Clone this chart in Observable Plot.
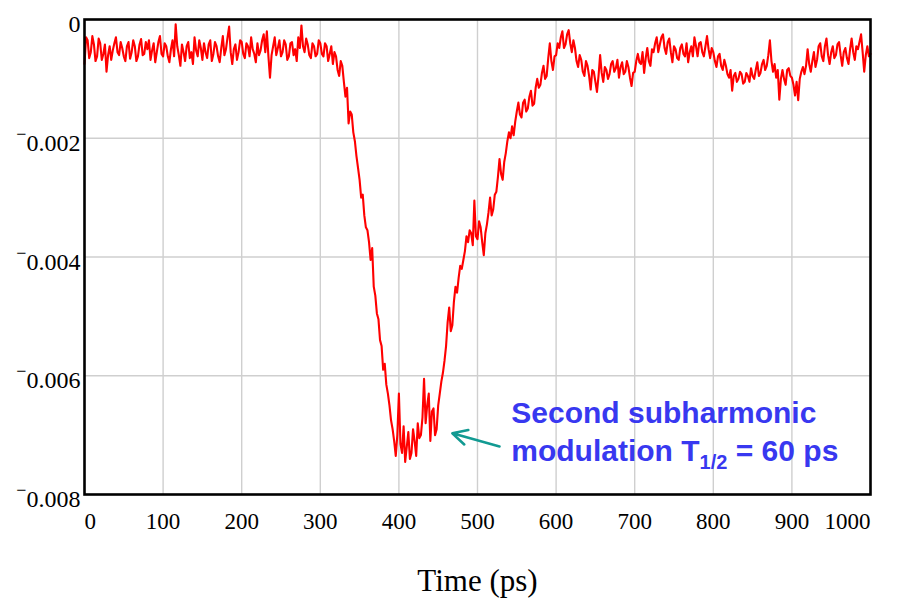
<!DOCTYPE html>
<html>
<head>
<meta charset="utf-8">
<script src="https://cdn.jsdelivr.net/npm/d3@7"></script>
<script src="https://cdn.jsdelivr.net/npm/@observablehq/plot@0.6"></script>
<style>
  html, body { margin: 0; padding: 0; background: #fff; }
</style>
</head>
<body>
<div id="chart"></div>
<script>
// Sampling step of the trace (ps)
const timeStepPs = 2;
// Signal values, in units of 1e-3, one every 2 ps from 0 to 1000 ps
const signalE3 = [
  // 0 .. 302
  -0.75,-0.30,-0.35,-0.65,-0.55,-0.28,-0.42,-0.70,-0.62,-0.32,-0.40,-0.68,-0.58,-0.42,-0.88,-0.60,-0.45,-0.68,-0.52,-0.40,
  -0.30,-0.55,-0.60,-0.38,-0.48,-0.62,-0.70,-0.45,-0.38,-0.66,-0.55,-0.35,-0.45,-0.70,-0.62,-0.42,-0.33,-0.60,-0.58,-0.38,
  -0.50,-0.35,-0.68,-0.52,-0.40,-0.72,-0.55,-0.38,-0.28,-0.58,-0.62,-0.40,-0.45,-0.62,-0.72,-0.50,-0.35,-0.62,-0.08,-0.45,
  -0.60,-0.78,-0.42,-0.55,-0.70,-0.45,-0.38,-0.65,-0.55,-0.75,-0.30,-0.52,-0.62,-0.35,-0.48,-0.68,-0.40,-0.55,-0.65,-0.42,
  -0.35,-0.70,-0.58,-0.38,-0.45,-0.62,-0.72,-0.48,-0.28,-0.60,-0.50,-0.30,-0.12,-0.55,-0.75,-0.50,-0.42,-0.68,-0.55,-0.35,
  -0.38,-0.58,-0.65,-0.40,-0.45,-0.62,-0.30,-0.50,-0.58,-0.72,-0.40,-0.60,-0.52,-0.35,-0.25,-0.55,-0.20,-0.62,-0.98,-0.60,
  -0.45,-0.30,-0.60,-0.48,-0.35,-0.62,-0.55,-0.35,-0.42,-0.68,-0.62,-0.40,-0.38,-0.60,-0.50,-0.70,-0.30,-0.48,-0.10,-0.45,
  -0.55,-0.32,-0.42,-0.60,-0.65,-0.40,-0.45,-0.62,-0.58,-0.35,-0.40,-0.58,
  // 304 .. 402
  -0.62,-0.40,-0.45,-0.70,-0.58,-0.45,-0.75,-0.55,-0.62,-0.85,-0.95,-0.70,-0.78,-1.05,-1.30,-1.15,-1.75,-1.55,-1.60,-1.90,
  -2.05,-2.30,-2.50,-2.70,-3.00,-2.95,-3.30,-3.50,-3.55,-3.75,-4.05,-3.85,-4.50,-4.65,-4.95,-5.05,-5.40,-5.50,-5.90,-5.80,
  -6.15,-6.30,-6.50,-6.75,-6.90,-7.10,-7.35,-7.00,-6.30,-7.15,
  // 404 .. 502
  -7.30,-6.85,-7.45,-7.20,-6.95,-7.40,-7.30,-6.90,-7.10,-7.35,-6.80,-7.05,-7.00,-6.70,-6.05,-6.80,-6.50,-6.30,-7.10,-6.60,
  -6.55,-7.00,-6.90,-6.50,-6.30,-6.10,-5.95,-5.75,-5.50,-5.10,-4.85,-5.25,-5.15,-4.75,-4.50,-4.60,-4.35,-4.15,-4.20,-4.05,
  -3.90,-3.65,-3.75,-3.55,-3.60,-3.80,-3.05,-3.65,-3.70,-3.40,
  // 504 .. 602
  -3.50,-3.75,-3.97,-3.60,-3.45,-3.25,-3.00,-3.30,-3.20,-2.95,-2.90,-2.65,-2.35,-2.60,-2.70,-2.40,-2.25,-2.05,-1.90,-2.00,
  -1.80,-1.95,-1.72,-1.55,-1.40,-1.60,-1.65,-1.40,-1.35,-1.55,-1.50,-1.30,-1.20,-1.45,-1.42,-1.15,-1.00,-1.15,-1.10,-0.90,
  -0.78,-1.00,-0.95,-0.65,-0.40,-0.70,-0.85,-0.62,-0.60,-0.40,
  // 604 .. 702
  -0.48,-0.30,-0.20,-0.48,-0.42,-0.25,-0.18,-0.40,-0.55,-0.35,-0.48,-0.70,-0.80,-0.60,-0.68,-0.88,-0.95,-0.70,-0.78,-0.95,
  -1.18,-0.85,-0.88,-1.05,-1.22,-0.95,-0.60,-0.90,-1.05,-0.80,-0.85,-1.00,-0.92,-0.75,-0.70,-0.88,-0.82,-0.68,-0.98,-0.80,
  -0.72,-0.92,-0.88,-0.70,-0.80,-0.98,-1.12,-0.90,-0.88,-0.70,
  // 704 .. 802
  -0.58,-0.72,-0.75,-0.55,-0.90,-0.65,-0.48,-0.70,-0.78,-0.50,-0.55,-0.40,-0.30,-0.55,-0.42,-0.30,-0.25,-0.48,-0.58,-0.38,
  -0.32,-0.55,-0.72,-0.45,-0.50,-0.65,-0.68,-0.48,-0.42,-0.58,-0.62,-0.40,-0.72,-0.55,-0.45,-0.62,-0.30,-0.45,-0.62,-0.40,
  -0.38,-0.55,-0.62,-0.45,-0.28,-0.50,-0.65,-0.48,-0.55,-0.70,
  // 804 .. 902
  -0.80,-0.62,-0.58,-0.78,-0.85,-0.68,-0.78,-0.92,-0.98,-0.85,-1.20,-0.95,-0.90,-1.05,-1.00,-0.88,-0.92,-1.08,-1.05,-0.90,
  -0.95,-1.05,-0.82,-0.95,-1.00,-0.85,-0.72,-0.95,-0.90,-0.75,-0.68,-0.85,-0.78,-0.60,-0.35,-0.70,-0.88,-0.75,-0.98,-0.85,
  -1.35,-1.00,-0.85,-1.00,-1.10,-0.85,-0.82,-0.95,-0.98,-1.10,
  // 904 .. 1000
  -1.28,-1.05,-1.36,-1.00,-0.88,-0.80,-0.92,-0.78,-0.50,-0.75,-0.88,-0.70,-0.55,-0.80,-0.68,-0.45,-0.40,-0.62,-0.70,-0.45,
  -0.32,-0.60,-0.75,-0.55,-0.45,-0.65,-0.60,-0.42,-0.38,-0.60,-0.78,-0.55,-0.48,-0.65,-0.75,-0.50,-0.32,-0.55,-0.68,-0.45,
  -0.50,-0.38,-0.25,-0.55,-0.88,-0.60,-0.45,-0.62,-0.58
];

// Axis ticks
const xTicksMid = [100, 200, 300, 400, 500, 600, 700, 800, 900];
const xTickFirst = [0];
const xTickLast = [1000];
const xGrid = [100, 200, 300, 400, 500, 600, 700, 800, 900];
const yTicks = [0, -2, -4, -6, -8];
const yGrid = [-2, -4, -6];
const xLabel = ["Time (ps)"];

// Annotation
const noteLine1 = ["Second subharmonic"];
const noteLine2 = ["modulation T1/2 = 60 ps"];
const notePos = [{x: 543, y1: -6.80, y2: -7.44}];
const arrowPos = [{x1: 528, y1: -7.19, x2: 468, y2: -6.97}];

const data = signalE3.map((v, i) => ({t: i * timeStepPs, v}));

const serif = "'Liberation Serif', 'Times New Roman', Times, serif";
const sans = "'Liberation Sans', Arial, Helvetica, sans-serif";
const yFmt = d => d === 0 ? "0" : "\u2212" + (-d / 1000).toFixed(3);
const xFmt = d => String(d);

const tickStyle = {fontSize: 23, fontFamily: serif, fill: "#000"};

const plot = Plot.plot({
  width: 905,
  height: 599,
  marginLeft: 84,
  marginRight: 35,
  marginTop: 19,
  marginBottom: 105,
  style: {fontFamily: serif, background: "#fff", overflow: "visible"},
  x: {domain: [0, 1000], axis: null},
  y: {domain: [-8, 0], axis: null},
  marks: [
    Plot.gridX(xGrid, {stroke: "#cfcfcf", strokeOpacity: 1, strokeWidth: 1.4}),
    Plot.gridY(yGrid, {stroke: "#cfcfcf", strokeOpacity: 1, strokeWidth: 1.4}),
    Plot.line(data, {x: "t", y: "v", stroke: "#ff0000", strokeWidth: 2.1, strokeLinejoin: "round"}),
    Plot.frame({stroke: "#000", strokeWidth: 2.6}),
    // x tick labels
    Plot.text(xTicksMid, {x: d => d, text: xFmt, frameAnchor: "bottom", dy: 34, lineAnchor: "bottom", textAnchor: "middle", ...tickStyle}),
    Plot.text(xTickFirst, {x: d => d, text: xFmt, frameAnchor: "bottom", dy: 34, lineAnchor: "bottom", textAnchor: "start", ...tickStyle}),
    Plot.text(xTickLast, {x: d => d, text: xFmt, frameAnchor: "bottom", dy: 34, lineAnchor: "bottom", textAnchor: "end", ...tickStyle}),
    // y tick labels
    Plot.text(yTicks, {y: d => d, text: yFmt, frameAnchor: "left", dx: -4, dy: 5, textAnchor: "end", lineAnchor: "middle", ...tickStyle, fontSize: 24}),
    // x axis title
    Plot.text(xLabel, {frameAnchor: "bottom", dy: 96, lineAnchor: "bottom", fontSize: 31, fontFamily: serif, fill: "#000"}),
    // annotation
    Plot.text(notePos, {x: "x", y: "y1", text: () => noteLine1[0], textAnchor: "start", lineAnchor: "bottom", fontSize: 30, fontWeight: "bold", fontFamily: sans, fill: "#3838f0"}),
    Plot.text(notePos, {x: "x", y: "y2", text: () => noteLine2[0], textAnchor: "start", lineAnchor: "bottom", fontSize: 30, fontWeight: "bold", fontFamily: sans, fill: "#3838f0"}),
    Plot.arrow(arrowPos, {x1: "x1", y1: "y1", x2: "x2", y2: "y2", stroke: "#129a92", strokeWidth: 2.6, headLength: 14, headAngle: 55})
  ]
});

// Subscript for T1/2
d3.select(plot).selectAll("text").filter(function() { return this.textContent === noteLine2[0]; })
  .each(function() {
    const t = d3.select(this);
    t.text(null);
    t.append("tspan").text("modulation T");
    t.append("tspan").attr("dy", 8).attr("font-size", 20).text("1/2");
    t.append("tspan").attr("dy", -8).text(" = 60 ps");
  });

// Raised minus sign on the y tick labels (as in the original)
d3.select(plot).selectAll("text").filter(function() { return /^\u2212\d/.test(this.textContent); })
  .each(function() {
    const t = d3.select(this);
    const rest = this.textContent.slice(1);
    t.text(null);
    t.append("tspan").attr("font-size", 18).attr("dy", -11).text("\u2212");
    t.append("tspan").attr("dy", 11).text(rest);
  });

document.getElementById("chart").appendChild(plot);
</script>
</body>
</html>
